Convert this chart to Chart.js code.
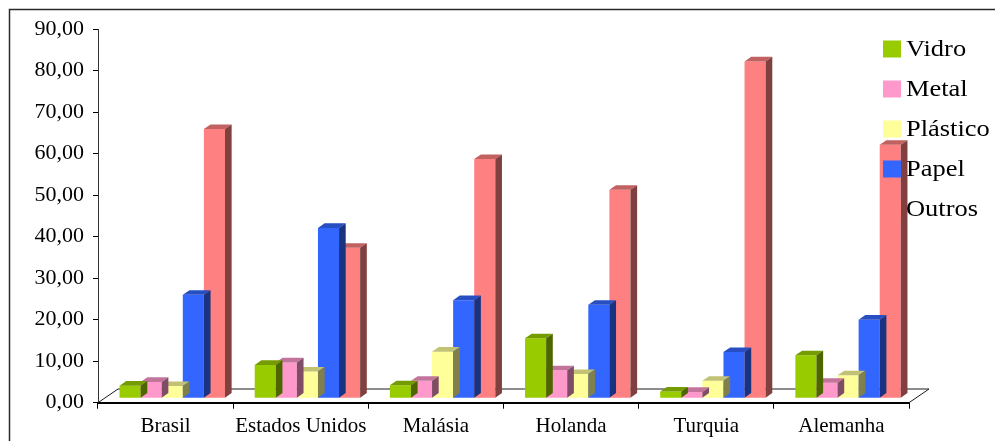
<!DOCTYPE html>
<html>
<head>
<meta charset="utf-8">
<script src="https://cdn.jsdelivr.net/npm/chart.js@4/dist/chart.umd.min.js"></script>
<style>
  html, body { margin: 0; padding: 0; background: #ffffff; }
  canvas { display: block; }
</style>
</head>
<body>
<canvas id="chart" width="995" height="441"></canvas>
<script>
// Countries on the category axis
const categories = ['Brasil', 'Estados Unidos', 'Malásia', 'Holanda', 'Turquia', 'Alemanha'];

// Share of each material (%) per country
const vidro    = [3.0, 8.0, 3.1, 14.4, 1.6, 10.3];
const metal    = [3.9, 8.6, 4.2, 6.7, 1.5, 3.7];
const plastico = [2.9, 6.4, 11.2, 5.8, 4.2, 5.5];
const papel    = [24.9, 41.0, 23.6, 22.5, 11.1, 18.9];
const outros   = [64.8, 36.2, 57.6, 50.2, 81.1, 61.0];

const seriesNames = ['Vidro', 'Metal', 'Plástico', 'Papel', 'Outros'];
const seriesValues = [vidro, metal, plastico, papel, outros];
const seriesColors = ['#99CC00', '#FF99CC', '#FFFF99', '#3366FF', '#FF8080'];

// Value axis ticks
const yTickValues = [0, 10, 20, 30, 40, 50, 60, 70, 80, 90];
const yTickLabels = ['0,00', '10,00', '20,00', '30,00', '40,00', '50,00', '60,00', '70,00', '80,00', '90,00'];

const FONT = '"Liberation Serif", "Times New Roman", serif';

// Floor depth of the pseudo-3D plot (bars sit in the middle third)
const FLOOR_DX = 20;
const FLOOR_DY = 13.7;
const BAR_DX = FLOOR_DX / 3;
const BAR_DY = FLOOR_DY / 3;

function shade(hex, f) {
  const n = parseInt(hex.slice(1), 16);
  const r = Math.round(((n >> 16) & 255) * f);
  const g = Math.round(((n >> 8) & 255) * f);
  const b = Math.round((n & 255) * f);
  return `rgb(${r},${g},${b})`;
}

// Outer frame of the chart object
const framePlugin = {
  id: 'frame',
  beforeDraw(chart) {
    const ctx = chart.ctx;
    ctx.save();
    ctx.strokeStyle = '#2b2b2b';
    ctx.lineWidth = 1.5;
    ctx.beginPath();
    ctx.moveTo(9.5, chart.height);
    ctx.lineTo(9.5, 9.5);
    ctx.lineTo(chart.width, 9.5);
    ctx.stroke();
    ctx.restore();
  }
};

// Floor outline plus top and side faces of each bar
const depthPlugin = {
  id: 'depth3d',
  beforeDatasetsDraw(chart) {
    const { ctx, chartArea: a } = chart;
    ctx.save();
    ctx.strokeStyle = '#1a1a1a';
    ctx.lineWidth = 1;
    ctx.beginPath();
    ctx.moveTo(a.left, a.bottom);
    ctx.lineTo(a.left + FLOOR_DX, a.bottom - FLOOR_DY);
    ctx.lineTo(a.right + FLOOR_DX, a.bottom - FLOOR_DY);
    ctx.lineTo(a.right, a.bottom);
    ctx.stroke();
    ctx.restore();
    // front faces sit one third of the way into the floor
    ctx.save();
    ctx.translate(BAR_DX, -BAR_DY);
  },
  afterDatasetDraw(chart, args) {
    const ctx = chart.ctx;
    const base = seriesColors[args.index];
    args.meta.data.forEach(bar => {
      const p = bar.getProps(['x', 'y', 'base', 'width'], true);
      const l = p.x - p.width / 2;
      const r = p.x + p.width / 2;
      ctx.fillStyle = shade(base, 0.76);
      ctx.beginPath();
      ctx.moveTo(l, p.y);
      ctx.lineTo(l + BAR_DX, p.y - BAR_DY);
      ctx.lineTo(r + BAR_DX, p.y - BAR_DY);
      ctx.lineTo(r, p.y);
      ctx.closePath();
      ctx.fill();
      ctx.fillStyle = shade(base, 0.5);
      ctx.beginPath();
      ctx.moveTo(r, p.y);
      ctx.lineTo(r + BAR_DX, p.y - BAR_DY);
      ctx.lineTo(r + BAR_DX, p.base - BAR_DY);
      ctx.lineTo(r, p.base);
      ctx.closePath();
      ctx.fill();
    });
  },
  afterDatasetsDraw(chart) {
    chart.ctx.restore();
  }
};

// Legend drawn over the plot at the upper right
const legendPlugin = {
  id: 'sideLegend',
  afterDraw(chart) {
    const ctx = chart.ctx;
    chart.data.datasets.forEach((ds, i) => {
      const cy = 49 + i * 40;
      ctx.save();
      ctx.fillStyle = ds.backgroundColor;
      ctx.fillRect(883, cy - 8.5, 18, 17);
      ctx.translate(906, cy);
      ctx.scale(1.15, 1);
      ctx.fillStyle = '#000000';
      ctx.font = '23px ' + FONT;
      ctx.textBaseline = 'middle';
      ctx.textAlign = 'left';
      ctx.fillText(ds.label, 0, 1);
      ctx.restore();
    });
  }
};

const datasets = seriesNames.map((name, i) => ({
  label: name,
  data: seriesValues[i],
  backgroundColor: seriesColors[i],
  borderWidth: 0,
  barPercentage: 1.0,
  categoryPercentage: 0.78
}));

new Chart(document.getElementById('chart'), {
  type: 'bar',
  data: { labels: categories, datasets },
  plugins: [framePlugin, depthPlugin, legendPlugin],
  options: {
    responsive: false,
    animation: false,
    devicePixelRatio: 1,
    layout: { padding: { top: 29, right: 86, left: 0, bottom: 0 } },
    plugins: {
      legend: { display: false },
      tooltip: { enabled: false }
    },
    scales: {
      x: {
        grid: { display: true, drawOnChartArea: false, drawTicks: true, tickLength: 6, color: '#000000', offset: true, lineWidth: 1 },
        border: { display: true, color: '#000000', width: 2 },
        ticks: { color: '#000000', font: { family: FONT, size: 21 }, padding: 5, maxRotation: 0, autoSkip: false },
        afterFit(scale) { scale.height = 38.3; }
      },
      y: {
        min: 0,
        max: 90,
        afterBuildTicks(scale) { scale.ticks = yTickValues.map(v => ({ value: v })); },
        ticks: {
          color: '#000000',
          font: { family: FONT, size: 22 },
          padding: 9,
          callback: (v) => yTickLabels[yTickValues.indexOf(v)]
        },
        grid: { display: true, drawOnChartArea: false, drawTicks: true, tickLength: 5, color: '#000000' },
        border: { display: true, color: '#333333', width: 1 },
        afterFit(scale) { scale.width = 98; }
      }
    }
  }
});
</script>
</body>
</html>
